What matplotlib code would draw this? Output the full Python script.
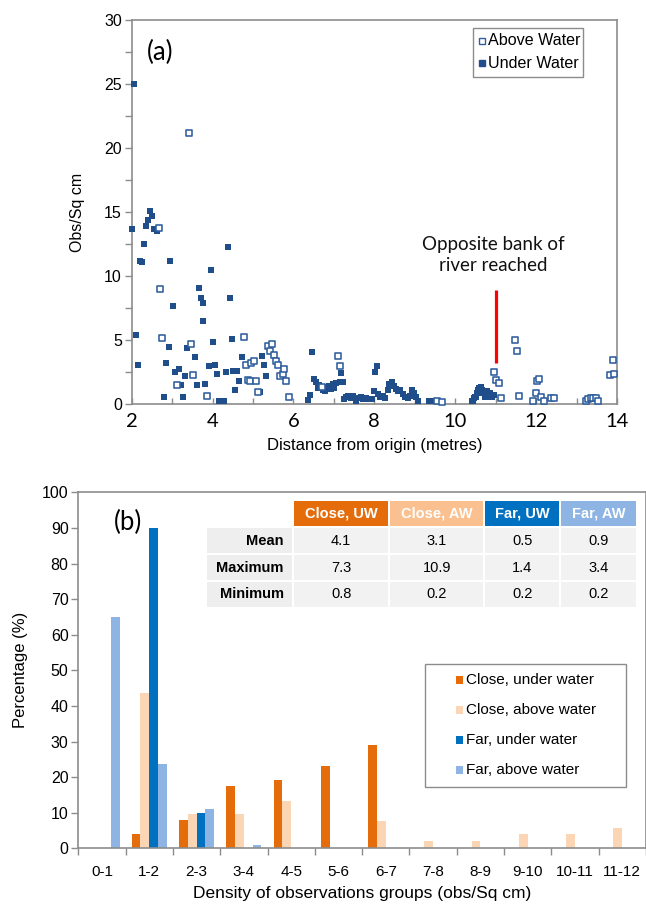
import matplotlib
matplotlib.use("Agg")
import matplotlib.pyplot as plt
from matplotlib.patches import Rectangle
from matplotlib.lines import Line2D
import numpy as np

# ---------------- data : panel (a) ----------------
under_x = [2.05, 2.0, 2.45, 2.41, 2.51, 2.35, 2.56, 2.62, 2.31, 2.21, 2.26, 2.95, 4.37, 3.95,
           3.67, 3.71, 3.76, 4.42, 3.01, 3.76, 2.10, 2.91, 3.36, 3.57, 4.02, 4.47, 2.16, 2.86,
           3.06, 3.17, 3.32, 3.22, 3.62, 3.81, 3.92, 4.06, 4.12, 4.32, 4.51, 4.61, 4.66, 4.73,
           4.56, 2.80, 3.26, 4.16, 4.28, 5.17, 5.21, 5.27, 5.32,
           6.46, 6.35, 6.40, 6.50, 6.56, 6.60, 6.64, 6.68, 6.72, 6.77, 6.81, 6.85, 6.89, 6.93,
           6.97, 7.01, 7.05, 7.14, 7.22, 7.17, 7.26, 7.30, 7.36, 7.42, 7.48, 7.55, 7.61, 7.67,
           7.73, 7.79, 7.86, 7.93, 7.98, 8.02, 8.07, 8.08, 8.14, 8.21, 8.27, 8.33, 8.37, 8.43,
           8.48, 8.53, 8.59, 8.64, 8.70, 8.77, 8.82, 8.88, 8.93, 8.97, 9.03, 9.09, 9.34, 9.40,
           10.43, 10.51,
           10.42, 10.46, 10.50, 10.55, 10.57, 10.60, 10.63, 10.67, 10.69, 10.74, 10.75, 10.79,
           10.82, 10.85, 10.88, 10.92, 10.95]
under_y = [25.0, 13.7, 15.1, 14.4, 14.7, 13.9, 13.7, 13.5, 12.5, 11.2, 11.1, 11.2, 12.3, 10.5,
           9.1, 8.3, 7.9, 8.3, 7.7, 6.5, 5.4, 4.5, 4.4, 3.7, 4.9, 5.1, 3.1, 3.2,
           2.5, 2.8, 2.2, 1.5, 1.5, 1.6, 3.0, 3.1, 2.4, 2.5, 2.6, 2.6, 1.8, 3.7,
           1.1, 0.6, 0.6, 0.3, 0.3, 1.0, 3.8, 3.1, 2.2,
           4.08, 0.36, 0.75, 2.0, 1.74, 1.3, 1.56, 1.4, 1.14, 1.04, 1.4, 1.3, 1.48, 1.22,
           1.61, 1.3, 1.66, 1.74, 1.79, 2.44, 0.44, 0.62, 0.7, 0.52, 0.65, 0.31, 0.52, 0.62,
           0.42, 0.52, 0.44, 0.42, 1.09, 2.52, 3.04, 0.83, 0.57, 0.7, 0.52, 1.14, 1.61, 1.74,
           1.48, 1.22, 1.04, 1.14, 0.83, 0.62, 0.52, 0.7, 1.14, 0.88, 0.57, 0.31, 0.31, 0.31,
           0.26, 0.57,
           0.29, 0.47, 0.6, 0.86, 1.12, 1.32, 1.38, 1.12, 0.86, 0.6, 0.73, 1.06,
           0.6, 0.86, 0.73, 0.6, 0.73]

above_x = [3.42, 2.68, 2.71, 2.76, 3.46, 3.52, 3.11, 3.87, 4.77, 4.82, 4.96, 5.03, 4.87, 4.93,
           5.07, 5.12, 5.37, 5.47, 5.42, 5.51, 5.56, 5.62, 5.67, 5.73, 5.77, 5.82, 5.89,
           7.11, 7.16, 6.71, 9.55, 9.67,
           10.97, 11.02, 11.07, 11.12, 11.48, 11.52, 11.58, 11.93, 11.99, 12.03, 12.07, 12.12,
           12.20, 12.36, 12.43, 13.23, 13.29, 13.36, 13.41, 13.48, 13.54, 13.83, 13.93, 13.89]
above_y = [21.2, 13.8, 9.0, 5.2, 4.7, 2.3, 1.5, 0.7, 5.3, 3.1, 3.2, 3.4, 1.9, 1.8,
           1.8, 1.0, 4.6, 4.7, 4.2, 3.9, 3.4, 3.1, 2.2, 2.4, 2.8, 1.8, 0.6,
           3.77, 3.04, 1.4, 0.31, 0.18,
           2.5, 1.9, 1.7, 0.5, 5.0, 4.2, 0.7, 0.3, 0.9, 1.8, 2.0, 0.6,
           0.3, 0.5, 0.5, 0.3, 0.4, 0.5, 0.5, 0.5, 0.3, 2.3, 2.4, 3.5]

bank_x = 11.0
bank_y = [3.2, 8.9]

# ---------------- data : panel (b) ----------------
categories = ["0-1", "1-2", "2-3", "3-4", "4-5", "5-6", "6-7", "7-8", "8-9", "9-10", "10-11", "11-12"]
close_uw = [0, 3.9, 7.9, 17.5, 19.3, 23.2, 29.0, 0, 0, 0, 0, 0]
close_aw = [0, 43.5, 9.6, 9.6, 13.4, 0, 7.7, 2.1, 2.1, 3.9, 3.9, 5.8]
far_uw = [0, 90.1, 10.0, 0, 0, 0, 0, 0, 0, 0, 0, 0]
far_aw = [65.0, 23.6, 11.1, 0.8, 0, 0, 0, 0, 0, 0, 0, 0]
series_labels = ["Close, under water", "Close, above water", "Far, under water", "Far, above water"]

table_cols = ["Close, UW", "Close, AW", "Far, UW", "Far, AW"]
table_rows = ["Mean", "Maximum", "Minimum"]
table_vals = [["4.1", "3.1", "0.5", "0.9"],
              ["7.3", "10.9", "1.4", "3.4"],
              ["0.8", "0.2", "0.2", "0.2"]]

# ---------------- styling ----------------
W, H = 646, 905
C_UNDER = "#1F4E8A"
C_ABOVE = "#2E5E9E"
C_CUW = "#E46C0A"
C_CAW = "#FCD5B5"
C_CAW_HDR = "#FAC08F"
C_FUW = "#0070C0"
C_FAW = "#8DB4E2"
SPINE = "#8C8C8C"
SANS = ["Liberation Sans", "DejaVu Sans"]
CAL = ["Lato", "DejaVu Sans"]

plt.rcParams["font.family"] = SANS


def fx(px):
    return px / W


def fy(py):
    return 1 - py / H


fig = plt.figure(figsize=(W / 100, H / 100), dpi=100)

# ================= panel (a) =================
axa = fig.add_axes([fx(131.7), fy(404.5), fx(617 - 131.7), (404.5 - 20) / H])
axa.scatter(under_x, under_y, marker="s", s=25, color=C_UNDER, linewidths=0, zorder=3,
            clip_on=False)
axa.scatter(above_x, above_y, marker="s", s=19, facecolors="white", edgecolors=C_ABOVE,
            linewidths=1.15, zorder=3, clip_on=False)
axa.plot([bank_x, bank_x], bank_y, color="#FF0000", lw=2.3, solid_capstyle="butt", zorder=4)
axa.text(10.95, 11.65, "Opposite bank of\nriver reached", ha="center", va="center",
         fontsize=13.5, family=CAL, linespacing=1.25, color="#111111")
axa.text(0.058, 0.915, "(a)", transform=axa.transAxes, fontsize=18.5, family=CAL,
         ha="center", va="center")
axa.set_xlim(2, 14)
axa.set_ylim(0, 30)
axa.set_xticks(np.arange(2, 15, 2))
axa.set_xticks(np.arange(3, 14, 2), minor=True)
axa.set_yticks(np.arange(0, 31, 5))
axa.set_yticks(np.arange(2.5, 30, 5), minor=True)
axa.tick_params(axis="x", which="both", direction="in", length=4, color=SPINE, width=1,
                labelsize=14.5, pad=6)
for lab in axa.get_xticklabels():
    lab.set_family(CAL)
axa.tick_params(axis="y", which="both", direction="out", length=5, color=SPINE, width=1,
                labelsize=11.5, pad=2)
for s in axa.spines.values():
    s.set_color(SPINE)
    s.set_linewidth(1.2)
axa.set_xlabel("Distance from origin (metres)", fontsize=12, labelpad=6)
axa.set_ylabel("Obs/Sq cm", fontsize=11.5, labelpad=14)

# legend (a)
fig.patches.append(Rectangle((fx(473.3), fy(77.3)), fx(583.3 - 473.3), (77.3 - 28.3) / H,
                             transform=fig.transFigure, facecolor="white", edgecolor="#8C8C8C",
                             lw=1.0, zorder=5))
fig.add_artist(Line2D([fx(482.3)], [fy(40.7)], transform=fig.transFigure, marker="s",
                      markersize=4.2, markerfacecolor="white", markeredgecolor=C_ABOVE,
                      markeredgewidth=1.0, linestyle="none", zorder=6))
fig.add_artist(Line2D([fx(482.3)], [fy(63.3)], transform=fig.transFigure, marker="s",
                      markersize=4.5, markerfacecolor=C_UNDER, markeredgecolor=C_UNDER,
                      linestyle="none", zorder=6))
fig.text(fx(487.5), fy(40.7), "Above Water", fontsize=11.6, va="center", ha="left", zorder=6)
fig.text(fx(487.5), fy(63.3), "Under Water", fontsize=11.6, va="center", ha="left", zorder=6)

# ================= panel (b) =================
axb = fig.add_axes([fx(78.3), fy(848.3), fx(645.9 - 78.3), (848.3 - 492.3) / H])
x = np.arange(len(categories))
bw = 0.186
series = [close_uw, close_aw, far_uw, far_aw]
cols = [C_CUW, C_CAW, C_FUW, C_FAW]
for i, (vals, c, lab) in enumerate(zip(series, cols, series_labels)):
    axb.bar(x + (i - 1.5) * bw, vals, width=bw, color=c, label=lab, zorder=2, linewidth=0)
axb.set_xlim(-0.5, len(categories) - 0.5)
axb.set_ylim(0, 100)
axb.set_yticks(np.arange(0, 101, 10))
axb.set_xticks(x)
axb.set_xticklabels(categories)
axb.set_xticks(np.arange(-0.5, len(categories), 1), minor=True)
axb.tick_params(axis="x", which="major", length=0, labelsize=11, pad=12)
axb.tick_params(axis="x", which="minor", direction="out", length=5, color=SPINE, width=1)
axb.tick_params(axis="y", direction="out", length=5, color=SPINE, width=1, labelsize=11.5, pad=2)
for s in axb.spines.values():
    s.set_color(SPINE)
    s.set_linewidth(1.2)
axb.set_xlabel("Density of observations groups (obs/Sq cm)", fontsize=12.5, labelpad=5)
axb.set_ylabel("Percentage (%)", fontsize=12, labelpad=10)
axb.text(0.088, 0.915, "(b)", transform=axb.transAxes, fontsize=18.5, family=CAL,
         ha="center", va="center")

# legend (b) drawn manually
fig.patches.append(Rectangle((fx(425), fy(786.7)), fx(625.7 - 425), (786.7 - 664) / H,
                             transform=fig.transFigure, facecolor="white", edgecolor="#8C8C8C",
                             lw=1.0, zorder=5))
for j, (c, lab) in enumerate(zip(cols, series_labels)):
    yy = 680 + 30 * j
    fig.patches.append(Rectangle((fx(455.5), fy(yy + 3.7)), fx(7.4), 7.4 / H,
                                 transform=fig.transFigure, facecolor=c, edgecolor="none",
                                 zorder=6))
    fig.text(fx(466.5), fy(yy), lab, fontsize=11, va="center", ha="left", zorder=6)

# table drawn manually
hdr_cols = [C_CUW, C_CAW_HDR, C_FUW, C_FAW]
col_edges = [(294, 388.3), (390, 483.3), (485, 559.3), (561, 636)]
row_edges = [(528.3, 553.3), (555, 580), (581.7, 606.7)]
lab_edge = (206.7, 291.7)
for (x0, x1), name, c in zip(col_edges, table_cols, hdr_cols):
    fig.patches.append(Rectangle((fx(x0), fy(525.7)), fx(x1 - x0), (525.7 - 501) / H,
                                 transform=fig.transFigure, facecolor=c, edgecolor="none",
                                 zorder=5))
    fig.text(fx((x0 + x1) / 2), fy(513.5), name, fontsize=10.5, fontweight="bold",
             color="white", ha="center", va="center", zorder=6)
for r, ((y0, y1), rname) in enumerate(zip(row_edges, table_rows)):
    fig.patches.append(Rectangle((fx(lab_edge[0]), fy(y1)), fx(lab_edge[1] - lab_edge[0]),
                                 (y1 - y0) / H, transform=fig.transFigure,
                                 facecolor="#EEEEEE", edgecolor="none", zorder=5))
    fig.text(fx(lab_edge[1] - 8), fy((y0 + y1) / 2), rname, fontsize=10.5, fontweight="bold",
             ha="right", va="center", zorder=6)
    for (x0, x1), v in zip(col_edges, table_vals[r]):
        fig.patches.append(Rectangle((fx(x0), fy(y1)), fx(x1 - x0), (y1 - y0) / H,
                                     transform=fig.transFigure, facecolor="#F2F2F2",
                                     edgecolor="none", zorder=5))
        fig.text(fx((x0 + x1) / 2), fy((y0 + y1) / 2), v, fontsize=10.5,
                 ha="center", va="center", zorder=6)

fig.savefig("out.png", dpi=100)
